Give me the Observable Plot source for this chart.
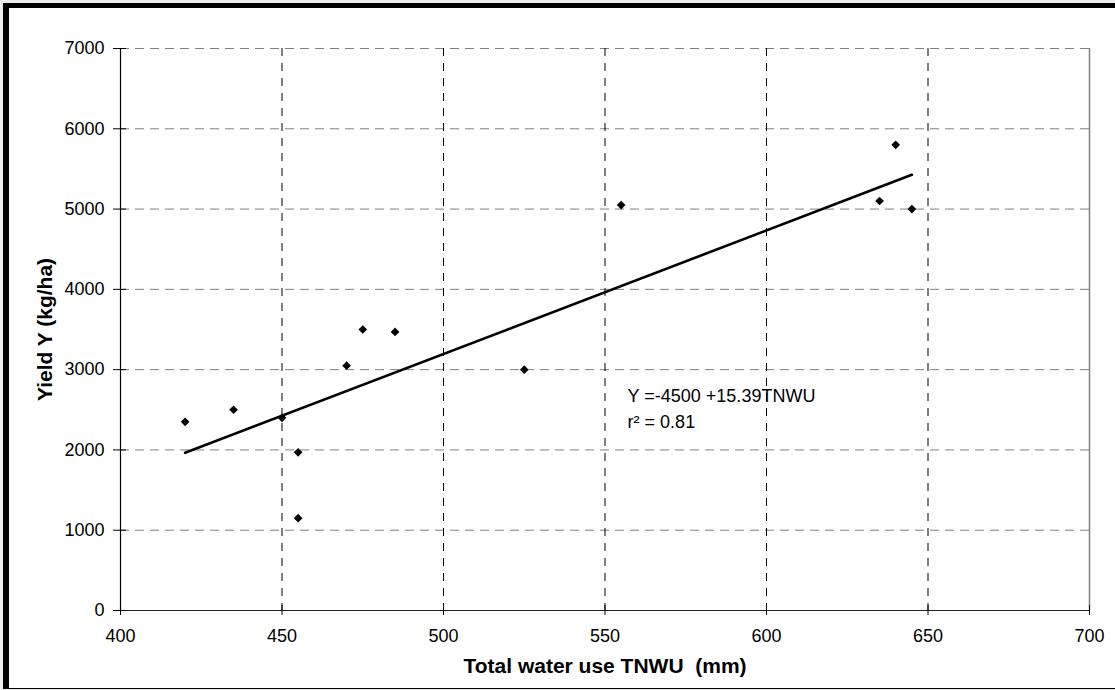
<!DOCTYPE html>
<html>
<head>
<meta charset="utf-8">
<script src="https://cdn.jsdelivr.net/npm/d3@7"></script>
<script src="https://cdn.jsdelivr.net/npm/@observablehq/plot@0.6"></script>
<style>
  html, body { margin: 0; padding: 0; background: #eeeeee; width: 1115px; height: 690px; overflow: hidden; }
  #frame { position: absolute; left: 3px; top: 3px; width: 1106px; height: 680px; background: #ffffff;
           border-left: 6px solid #000; border-top: 5px solid #000; border-bottom: 1px solid #000; }
  #chart { position: absolute; left: 0; top: 0; }
</style>
</head>
<body>
<div id="frame"></div>
<div id="chart"></div>
<script>
// Data
const waterUse = [420, 435, 450, 455, 455, 470, 475, 485, 525, 555, 635, 640, 645];
const yieldValues = [2350, 2500, 2400, 1970, 1150, 3050, 3500, 3470, 3000, 5050, 5100, 5800, 5000];
const xTicks = [400, 450, 500, 550, 600, 650, 700];
const yTicks = [0, 1000, 2000, 3000, 4000, 5000, 6000, 7000];
const fitIntercept = -4500;
const fitSlope = 15.39;
const fitRange = [420, 645];
const equationLabel = "Y =-4500 +15.39TNWU";
const r2Label = "r\u00B2 = 0.81";
const xTitle = "Total water use TNWU  (mm)";
const yTitle = "Yield Y (kg/ha)";

const points = waterUse.map((x, i) => ({x, y: yieldValues[i]}));
const fitLine = fitRange.map(x => ({x, y: fitIntercept + fitSlope * x}));

const chart = Plot.plot({
  width: 1115,
  height: 690,
  marginLeft: 120,
  marginRight: 26,
  marginTop: 48,
  marginBottom: 80,
  style: {background: "transparent", fontFamily: "'Liberation Sans', Arial, sans-serif", fontSize: "18px", color: "#000"},
  x: {domain: [400, 700]},
  y: {domain: [0, 7000]},
  marks: [
    Plot.gridY(yTicks.filter(d => d > 0), {stroke: "#808080", strokeOpacity: 1, strokeDasharray: "9,6"}),
    Plot.gridX(xTicks.filter(d => d > 400 && d < 700), {stroke: "#000", strokeOpacity: 1, strokeDasharray: "8,7"}),
    Plot.ruleX([700], {stroke: "#808080", strokeWidth: 1.5}),
    Plot.ruleX([400], {stroke: "#000", strokeWidth: 1.2}),
    Plot.ruleY([0], {stroke: "#222", strokeWidth: 1.2}),
    Plot.axisX({ticks: xTicks, tickSize: 10, dy: -5, tickFormat: () => "", label: null, stroke: "#000"}),
    Plot.axisX({ticks: xTicks, tickSize: 0, tickPadding: 19, tickFormat: d => String(d), label: null, fontSize: 18, fill: "#000"}),
    Plot.axisY({ticks: yTicks, tickSize: 13, dx: 6, tickFormat: () => "", label: null, stroke: "#000"}),
    Plot.axisY({ticks: yTicks, tickSize: 0, tickPadding: 16, tickFormat: d => String(d), label: null, fontSize: 18, fill: "#000"}),
    Plot.line(fitLine, {x: "x", y: "y", stroke: "#000", strokeWidth: 2.6}),
    Plot.dot(points, {x: "x", y: "y", symbol: "diamond2", r: 3.9, fill: "#000", stroke: "none"}),
    Plot.text([equationLabel], {x: 557, y: 2593, text: d => d, textAnchor: "start", lineAnchor: "bottom", fontSize: 18, fill: "#000"}),
    Plot.text([r2Label], {x: 557, y: 2269, text: d => d, textAnchor: "start", lineAnchor: "bottom", fontSize: 18, fill: "#000"}),
    Plot.text([xTitle], {frameAnchor: "bottom", dy: 62.5, textAnchor: "middle", lineAnchor: "bottom", text: d => d, fontSize: 21, fontWeight: "bold", fill: "#000"}),
    Plot.text([yTitle], {frameAnchor: "left", dx: -75, rotate: -90, textAnchor: "middle", lineAnchor: "middle", text: d => d, fontSize: 21, fontWeight: "bold", fill: "#000"})
  ]
});
document.getElementById("chart").appendChild(chart);
</script>
</body>
</html>
